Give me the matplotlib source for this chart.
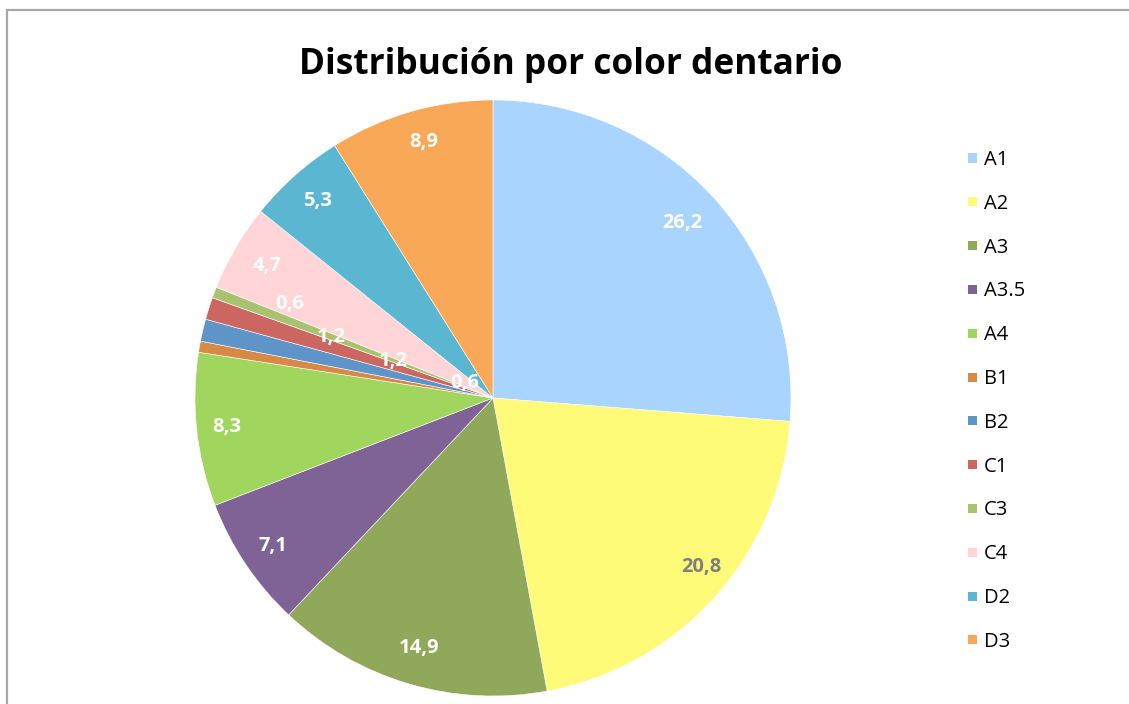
import matplotlib
matplotlib.use("Agg")
import matplotlib.pyplot as plt
from matplotlib.patches import Rectangle
import numpy as np

categories = ["A1", "A2", "A3", "A3.5", "A4", "B1", "B2", "C1", "C3", "C4", "D2", "D3"]
values = [26.2, 20.8, 14.9, 7.1, 8.3, 0.6, 1.2, 1.2, 0.6, 4.7, 5.3, 8.9]
value_labels = ["26,2", "20,8", "14,9", "7,1", "8,3", "0,6", "1,2", "1,2", "0,6", "4,7", "5,3", "8,9"]
colors = ["#a9d4fd", "#fffa78", "#8fa85a", "#7f6397", "#a1d65e", "#d68a46",
          "#5f94c9", "#cc6660", "#a9c26f", "#ffd5d8", "#5bb7d1", "#f9a857"]
label_colors = ["white", "#7f7f7f"] + ["white"] * 10
# label placement (radius fraction, angular nudge in degrees)
label_r = [0.866, 0.90, 0.875, 0.89, 0.90, 0.107, 0.357, 0.58, 0.75, 0.88, 0.886, 0.89]
label_dang = [0, 3, 0, 0, 0, -18, -7, -3, -4, 0, 0, -1]

title = "Distribución por color dentario"

plt.rcParams['font.family'] = ['Open Sans', 'DejaVu Sans']

W, H = 1129, 704
fig = plt.figure(figsize=(W / 100, H / 100), dpi=100)

cx, cy, R = 493, 398, 298
ax = fig.add_axes([(cx - R) / W, (H - cy - R) / H, 2 * R / W, 2 * R / H])
wedges, _ = ax.pie(values, colors=colors, startangle=90, counterclock=False,
                   wedgeprops=dict(edgecolor="white", linewidth=0.4))
ax.set_xlim(-1, 1)
ax.set_ylim(-1, 1)
ax.set_aspect("equal")
ax.axis("off")

total = sum(values)
cum = np.cumsum([0] + values)
for i, lab in enumerate(value_labels):
    mid = (cum[i] + cum[i + 1]) / 2 / total
    ang = np.deg2rad(90 - 360 * mid + label_dang[i])
    r = label_r[i]
    ax.text(r * np.cos(ang), r * np.sin(ang), lab, ha="center", va="center",
            fontsize=14.5, fontweight="bold", color=label_colors[i])

fig.text(571 / W, 1 - 65 / H, title, ha="center", va="center",
         fontsize=25.4, fontweight="bold", color="black")

# legend
y0, dy = 158, 43.8
for i, (cat, col) in enumerate(zip(categories, colors)):
    y = y0 + i * dy
    fig.patches.append(Rectangle((968 / W, 1 - (y + 4.5) / H), 9 / W, 9 / H,
                                 transform=fig.transFigure, facecolor=col, edgecolor="none"))
    fig.text(984 / W, 1 - (y + 2) / H, cat, ha="left", va="center", fontsize=14.5, color="black")

# chart border
fig.add_artist(Rectangle((6.5 / W, -0.1), 1.2, 1 - 9.5 / H + 0.1, transform=fig.transFigure,
                         facecolor="none", edgecolor="#a6a6a6", linewidth=1.6))

fig.savefig("out.png", dpi=100)
